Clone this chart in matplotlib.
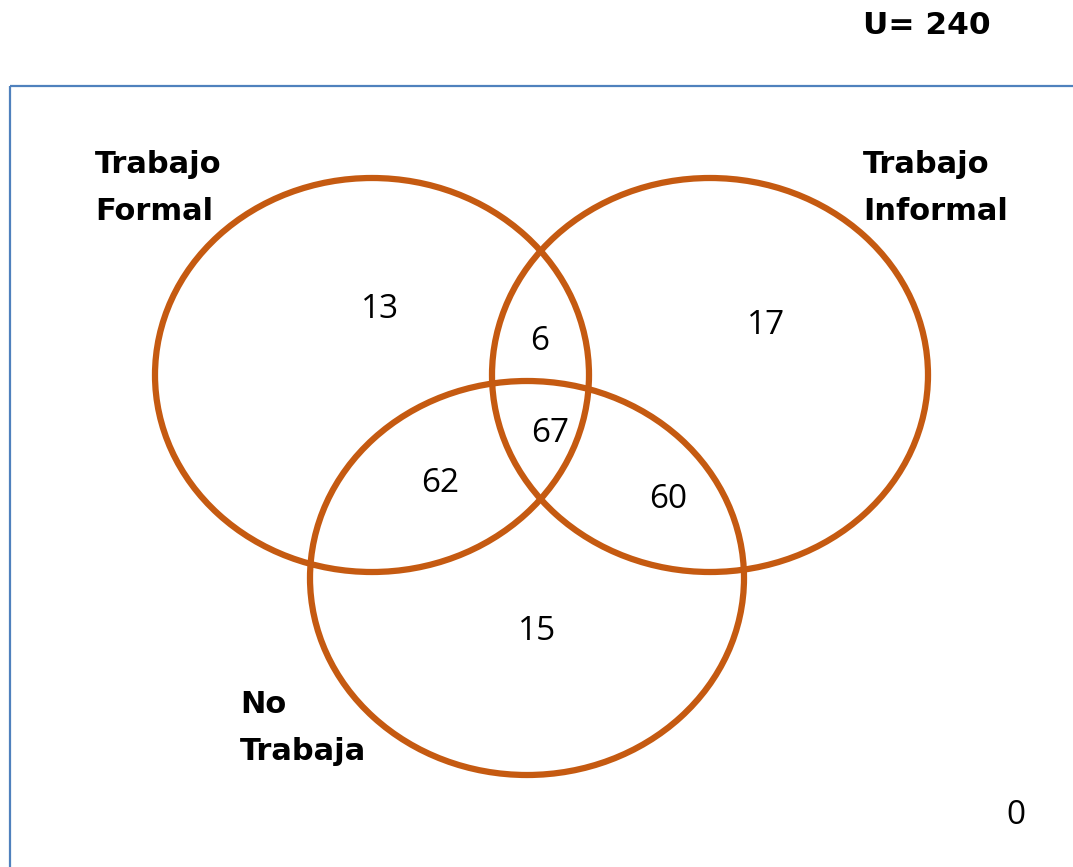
"""
Venn diagram: Trabajo Formal / Trabajo Informal / No Trabaja (U = 240)
"""
import matplotlib
matplotlib.use("Agg")
import matplotlib.pyplot as plt
from matplotlib.patches import Ellipse, Rectangle

W, H = 1073, 867

# sets: label, ellipse centre (x, y), radii (rx, ry)
set_names = ["Trabajo\nFormal", "Trabajo\nInformal", "No\nTrabaja"]
set_centres = [(372, 375), (710, 375), (527, 578)]
set_radii = [(217, 197), (218, 197), (217, 197)]
label_pos = [(95, 188), (863, 188), (240, 728)]

# region counts and where they sit
region_values = [13, 6, 17, 67, 62, 60, 15, 0]
region_pos = [(380, 310), (540, 342), (766, 325), (550, 433),
              (440, 484), (668, 500), (537, 632), (1016, 815)]

universe = "U= 240"

EDGE = "#C55A11"
FRAME = "#4F81BD"


def main():
    fig = plt.figure(figsize=(W / 100, H / 100), dpi=100)
    ax = fig.add_axes([0, 0, 1, 1])
    ax.set_xlim(0, W)
    ax.set_ylim(H, 0)
    ax.axis("off")

    # outer frame, runs off the right and bottom edges
    ax.add_patch(Rectangle((10, 86), W + 20, H, fill=False,
                           edgecolor=FRAME, lw=1.6))

    for (cx, cy), (rx, ry) in zip(set_centres, set_radii):
        ax.add_patch(Ellipse((cx, cy), 2 * rx, 2 * ry, fill=False,
                             edgecolor=EDGE, lw=4.5))

    for name, (x, y) in zip(set_names, label_pos):
        ax.text(x, y, name, ha="left", va="center", fontsize=22,
                fontweight="bold", linespacing=1.8, family="DejaVu Sans")

    for val, (x, y) in zip(region_values, region_pos):
        ax.text(x, y, str(val), ha="center", va="center", fontsize=24,
                family="Open Sans")

    ax.text(863, 25, universe, ha="left", va="center", fontsize=22.5,
            fontweight="bold", family="DejaVu Sans")

    fig.savefig("out.png", dpi=100)


if __name__ == "__main__":
    main()
